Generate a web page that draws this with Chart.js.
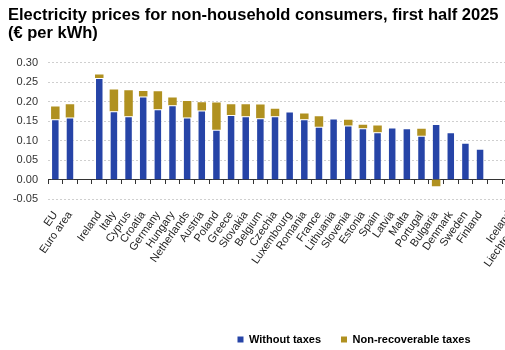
<!DOCTYPE html>
<html>
<head>
<meta charset="utf-8">
<script src="https://cdn.jsdelivr.net/npm/chart.js@4.4.1/dist/chart.umd.min.js"></script>
<style>
  html, body { margin: 0; padding: 0; background: #fff; overflow: hidden; }
  #wrap { position: relative; width: 706px; height: 350px; }
</style>
</head>
<body>
<div id="wrap"><canvas id="chart"></canvas></div>
<script>
// categories ('' = gap slots; the chart runs on past the right edge of the window)
const countries = [
  'EU', 'Euro area', '', 'Ireland', 'Italy', 'Cyprus', 'Croatia', 'Germany', 'Hungary',
  'Netherlands', 'Austria', 'Poland', 'Greece', 'Slovakia', 'Belgium', 'Czechia',
  'Luxembourg', 'Romania', 'France', 'Lithuania', 'Slovenia', 'Estonia', 'Spain',
  'Latvia', 'Malta', 'Portugal', 'Bulgaria', 'Denmark', 'Sweden', 'Finland', '',
  'Iceland', 'Liechtenstein', '', '', '', '', '', '', '', '', '', '', ''
];

// € per kWh
const withoutTaxes = [
  0.155, 0.160, null, 0.261, 0.176, 0.163, 0.214, 0.181, 0.191,
  0.160, 0.178, 0.128, 0.166, 0.163, 0.158, 0.163,
  0.175, 0.155, 0.136, 0.157, 0.139, 0.132, 0.122,
  0.134, 0.132, 0.113, 0.143, 0.122, 0.095, 0.079, null,
  null, null
];
const nonRecoverableTaxes = [
  0.033, 0.034, null, 0.009, 0.056, 0.067, 0.014, 0.046, 0.020,
  0.042, 0.021, 0.070, 0.028, 0.031, 0.035, 0.019,
  0, 0.015, 0.027, 0, 0.015, 0.009, 0.017,
  0, 0, 0.018, -0.017, 0, 0, 0, null,
  null, null
];

const titleLines = ['Electricity prices for non-household consumers, first half 2025', '(€ per kWh)'];

const FONT = 'Arial, "Liberation Sans", sans-serif';
const BLUE = '#2644A7';
const GOLD = '#B09120';

new Chart(document.getElementById('chart'), {
  type: 'bar',
  data: {
    labels: countries,
    datasets: [
      { label: 'Without taxes', data: withoutTaxes, backgroundColor: BLUE,
        borderColor: 'rgba(255,255,255,0.55)', borderWidth: 1, borderSkipped: 'bottom' },
      { label: 'Non-recoverable taxes', data: nonRecoverableTaxes, backgroundColor: GOLD }
    ]
  },
  options: {
    responsive: true,
    maintainAspectRatio: false,
    animation: false,
    layout: { padding: { left: 8, right: 6, top: 0, bottom: -5 } },
    datasets: { bar: { barPercentage: 0.58, categoryPercentage: 1 } },
    plugins: {
      title: {
        display: true, text: titleLines, align: 'start', color: '#000',
        font: { family: FONT, size: 16.5, weight: 'bold', lineHeight: 1.12 },
        padding: { top: 6, bottom: 20 }
      },
      legend: {
        position: 'bottom',
        labels: {
          boxWidth: 6, boxHeight: 6, padding: 20, color: '#000',
          font: { family: FONT, size: 11, weight: 'bold' },
          generateLabels: chart => Chart.defaults.plugins.legend.labels.generateLabels(chart)
            .map(l => ({ ...l, lineWidth: 0 }))
        }
      },
      tooltip: { enabled: false }
    },
    scales: {
      x: {
        stacked: true,
        grid: { display: false, drawTicks: false },
        border: { display: false },
        ticks: { autoSkip: false, minRotation: 55, maxRotation: 55, padding: 10, color: '#222',
                 font: { family: FONT, size: 11 } },
        afterFit: s => { s.height = 115; }
      },
      // zero line with the small tick marks between countries
      x2: {
        axis: 'x', type: 'category', position: { y: 0 }, offset: true,
        grid: { offset: true, drawOnChartArea: false, drawTicks: true, tickLength: 4, tickColor: '#333' },
        border: { color: '#333', width: 1 },
        ticks: { display: false }
      },
      y: {
        stacked: true, min: -0.05, max: 0.30,
        ticks: { stepSize: 0.05, padding: 10, color: '#333', font: { family: FONT, size: 11 },
                 callback: v => (Math.abs(v) < 1e-9 ? 0 : v).toFixed(2) },
        grid: { drawTicks: false, color: ctx => Math.abs(ctx.tick.value) < 1e-9 ? 'rgba(0,0,0,0)' : '#cfcfcf' },
        border: { display: false, dash: [2, 2] },
        afterFit: s => { s.width = 40; }
      }
    }
  }
});
</script>
</body>
</html>
